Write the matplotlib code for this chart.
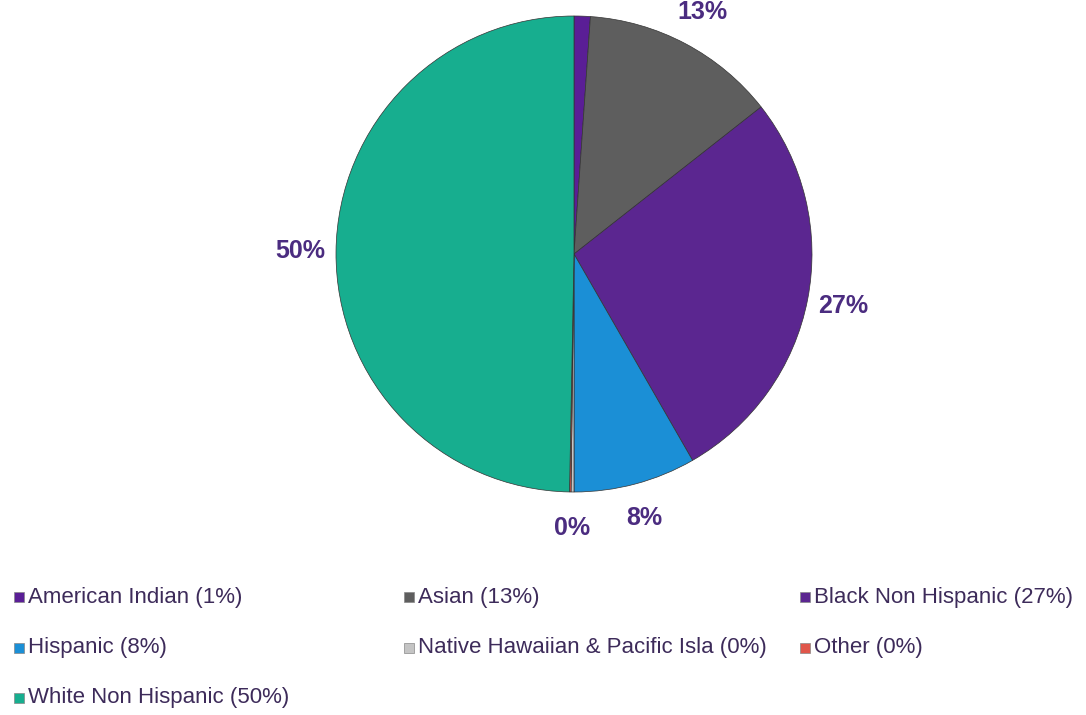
import numpy as np
import matplotlib.pyplot as plt
from matplotlib.patches import Rectangle

plt.rcParams['font.family'] = ['Liberation Sans', 'DejaVu Sans']

groups = ['American Indian', 'Asian', 'Black Non Hispanic', 'Hispanic',
          'Native Hawaiian & Pacific Isla', 'Other', 'White Non Hispanic']
shares = [1.1, 13.3, 27.3, 8.3, 0.2, 0.1, 49.7]
shown = ['1%', '13%', '27%', '8%', '0%', '0%', '50%']
slice_labels = ['', '13%', '27%', '8%', '0%', '', '50%']
colors = ['#5a1e96', '#5e5e5e', '#5b2690', '#1b8fd6', '#c4c4c4', '#e0564a', '#17ae8f']

fig = plt.figure(figsize=(10.86, 7.15), dpi=100)
W, H = 1086, 715
cx, cy, r = 574, 254, 238
ax = fig.add_axes([(cx - r) / W, (H - cy - r) / H, 2 * r / W, 2 * r / H])

wedges, texts = ax.pie(shares, colors=colors, labels=slice_labels, startangle=90,
                       counterclock=False, labeldistance=1.15,
                       wedgeprops=dict(edgecolor='#333333', linewidth=0.5),
                       textprops=dict(color='#4b2c80', fontsize=18, fontweight='bold'))
for t in texts:
    t.set_ha('center')
    t.set_va('center')
ax.set_xlim(-1, 1)
ax.set_ylim(-1, 1)

# legend, laid out row by row in three columns
col_x = [14, 404, 800]
row_y = [597, 648, 698]
for i, (g, s, c) in enumerate(zip(groups, shown, colors)):
    x = col_x[i % 3]
    y = row_y[i // 3]
    fig.patches.append(Rectangle((x / W, 1 - (y + 5) / H), 10 / W, 10 / H,
                                 transform=fig.transFigure, facecolor=c,
                                 edgecolor='#888888', linewidth=0.5))
    fig.text((x + 14) / W, 1 - y / H, '%s (%s)' % (g, s), fontsize=16,
             color='#3d2b5a', va='center', ha='left')

fig.savefig('out.png', dpi=100, facecolor='white')
